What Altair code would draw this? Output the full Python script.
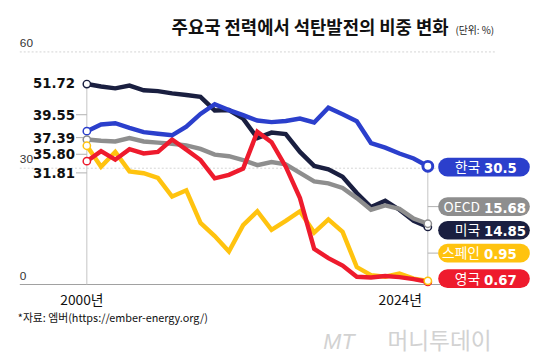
import altair as alt
import pandas as pd

years = list(range(2000, 2025))
names = ['한국', 'OECD', '미국', '스페인', '영국']
colors = ['#2B3FCC', '#8E8E8E', '#1A1F40', '#FFC30F', '#EE1B2D']

korea = [39.55, 41.3, 41.6, 40.4, 39.3, 38.9, 38.5, 40.7, 44.0, 46.5, 45.0, 43.7, 42.3,
         41.9, 42.2, 42.8, 41.8, 45.6, 43.9, 42.1, 36.5, 35.3, 33.8, 32.5, 30.5]
oecd = [37.39, 37.1, 36.9, 37.8, 36.9, 36.6, 36.3, 35.9, 35.0, 33.5, 33.1, 32.1, 30.8,
        31.6, 31.0, 28.8, 26.6, 26.1, 24.9, 22.3, 19.3, 20.4, 19.5, 17.0, 15.68]
usa = [51.72, 51.1, 50.6, 51.3, 50.1, 49.9, 49.3, 48.9, 48.4, 44.9, 45.0, 42.8, 37.8,
       39.2, 38.8, 34.2, 30.6, 29.7, 27.8, 23.6, 20.0, 21.6, 19.3, 16.4, 14.85]
spain = [35.80, 30.4, 34.2, 29.2, 28.7, 27.5, 22.7, 24.3, 15.9, 12.5, 8.5, 15.3, 18.9,
         14.1, 16.4, 18.9, 13.4, 16.8, 13.6, 4.5, 2.4, 2.0, 2.8, 1.5, 0.95]
uk = [31.81, 34.4, 32.2, 34.9, 33.8, 34.2, 37.4, 34.8, 32.1, 27.4, 28.3, 29.9, 39.4,
      36.7, 30.4, 22.3, 9.2, 6.8, 4.9, 2.0, 1.8, 2.2, 1.9, 1.4, 0.67]
series = [korea, oecd, usa, spain, uk]

start_text = ['39.55', '37.39', '51.72', '35.80', '31.81']
end_text = ['30.5', '15.68', '14.85', '0.95', '0.67']
# label placement (in value units) after de-overlapping
start_pos = [43.8, 37.9, 51.9, 33.6, 28.8]
end_pos = [30.3, 20.1, 14.0, 8.1, 1.5]

y_ticks = [60, 30, 0]
x_labels = ['2000년', '2024년']

rows = []
for n, vals in zip(names, series):
    for yr, v in zip(years, vals):
        rows.append({'name': n, 'year': yr, 'v': v})
df = pd.DataFrame(rows)

lab = pd.DataFrame({'name': names, 'stxt': start_text, 'etxt': end_text,
                    'spos': start_pos, 'epos': end_pos,
                    'y0': [s[0] for s in series], 'y1': [s[-1] for s in series],
                    'x0': [years[0]] * 5, 'x1': [years[-1]] * 5})

xs = alt.Scale(domain=[2000, 2024], range=[80, 426])
ys = alt.Scale(domain=[0, 60], range=[278, 42])
cs = alt.Scale(domain=names, range=colors)
X = lambda f: alt.X(f, type='quantitative', scale=xs, axis=None)
Y = lambda f: alt.Y(f, type='quantitative', scale=ys, axis=None)
C = alt.Color('name:N', scale=cs, legend=None)

KR = 'Noto Sans CJK KR'
NUM = 'DejaVu Sans Condensed, Liberation Sans Narrow, Liberation Sans, sans-serif'

layers = []
grid = pd.DataFrame({'v': y_ticks})
layers.append(alt.Chart(grid).transform_filter('datum.v > 0').mark_rule(
    color='#d4d4d4', strokeDash=[2, 2], strokeWidth=1).encode(
    x=alt.value(12), x2=alt.value(495), y=Y('v')))
layers.append(alt.Chart(grid).transform_filter('datum.v == 0').mark_rule(
    color='#a0a0a0', strokeWidth=1).encode(x=alt.value(12), x2=alt.value(495), y=Y('v')))
layers.append(alt.Chart(grid).mark_text(
    align='left', baseline='alphabetic', dy=-5, fontSize=12, font='Liberation Sans', color='#333').encode(
    x=alt.value(12), y=Y('v'), text=alt.Text('v:Q')))

# guide lines
guide = pd.DataFrame({'year': [2000, 2024], 'top': [51.72, 30.5], 'bot': [0, 0]})
layers.append(alt.Chart(guide).mark_rule(color='#c4c4c4', strokeWidth=1).encode(
    x=X('year'), y=Y('top'), y2='bot'))
layers.append(alt.Chart(lab).transform_filter("datum.name != '미국'").mark_rule(
    color='#b0b0b0', strokeWidth=1).encode(x=alt.value(69), x2=alt.value(80), y=Y('spos')))
layers.append(alt.Chart(lab).transform_filter("datum.name == 'OECD' || datum.name == '스페인'").mark_rule(
    color='#b0b0b0', strokeWidth=1).encode(x=alt.value(426), x2=alt.value(437), y=Y('epos')))

# lines
for n in ['미국', 'OECD', '스페인', '영국', '한국']:
    layers.append(alt.Chart(df).transform_filter(alt.datum.name == n).mark_line(
        strokeWidth=4.5, strokeJoin='miter').encode(x=X('year'), y=Y('v'), color=C))

# start / end circles
layers.append(alt.Chart(lab).mark_point(filled=True, fill='white', size=55, strokeWidth=1.5, opacity=1).encode(
    x=X('x0'), y=Y('y0'), stroke=alt.Stroke('name:N', scale=cs, legend=None)))
for n in ['미국', 'OECD', '영국', '스페인']:
    layers.append(alt.Chart(lab).transform_filter(alt.datum.name == n).mark_point(
        filled=True, fill='white', size=55, strokeWidth=1.5, opacity=1).encode(
        x=X('x1'), y=Y('y1'), stroke=alt.Stroke('name:N', scale=cs, legend=None)))
layers.append(alt.Chart(lab).transform_filter("datum.name == '한국'").mark_point(
    filled=True, fill='white', size=100, strokeWidth=3, opacity=1).encode(
    x=X('x1'), y=Y('y1'), stroke=alt.Stroke('name:N', scale=cs, legend=None)))

# start labels
layers.append(alt.Chart(lab).mark_text(align='right', baseline='middle', dx=-12, fontSize=15,
                                       fontWeight='bold', font=NUM, color='#111').encode(
    x=X('x0'), y=Y('spos'), text='stxt:N'))

# end pills
layers.append(alt.Chart(lab).mark_rule(strokeWidth=19, strokeCap='round', opacity=1).encode(
    x=alt.value(446), x2=alt.value(520), y=Y('epos'), color=C))
layers.append(alt.Chart(lab).mark_text(align='right', baseline='middle', dy=1, fontSize=14,
                                       font=KR, color='white').encode(
    x=alt.value(479), y=Y('epos'), text='name:N'))
layers.append(alt.Chart(lab).mark_text(align='left', baseline='middle', dy=1, fontSize=15,
                                       fontWeight='bold', font=NUM, color='white').encode(
    x=alt.value(483), y=Y('epos'), text='etxt:N'))

# x labels
xl = pd.DataFrame({'year': [2000, 2024], 't': x_labels, 'v': [0, 0]})
layers.append(alt.Chart(xl).transform_filter('datum.year == 2000').mark_text(
    fontSize=14, font=KR, color='#111', baseline='alphabetic', dx=-5).encode(
    x=X('year'), y=alt.value(299), text='t:N'))
layers.append(alt.Chart(xl).transform_filter('datum.year == 2024').mark_text(
    fontSize=14, font=KR, color='#111', baseline='alphabetic', dx=-28).encode(
    x=X('year'), y=alt.value(299), text='t:N'))

# titles and notes
notes = pd.DataFrame({'t': ['주요국 전력에서 석탄발전의 비중 변화']})
layers.append(alt.Chart(notes).mark_text(align='right', baseline='alphabetic', fontSize=18,
                                         fontWeight='bold', font=KR, color='#111').encode(
    x=alt.value(447), y=alt.value(24), text='t:N'))
layers.append(alt.Chart(pd.DataFrame({'t': ['(단위: %)']})).mark_text(
    align='left', baseline='alphabetic', fontSize=10, font=KR, color='#222').encode(
    x=alt.value(454), y=alt.value(24), text='t:N'))
layers.append(alt.Chart(pd.DataFrame({'t': ['*자료: 엠버(https://ember-energy.org/)']})).mark_text(
    align='left', baseline='alphabetic', fontSize=11, font=KR, color='#111').encode(
    x=alt.value(10), y=alt.value(316), text='t:N'))
layers.append(alt.Chart(pd.DataFrame({'t': ['MT']})).mark_text(
    align='left', baseline='alphabetic', fontSize=22, fontStyle='italic', font='Liberation Sans',
    color='#d2d2d2').encode(x=alt.value(320), y=alt.value(343), text='t:N'))
layers.append(alt.Chart(pd.DataFrame({'t': ['머니투데이']})).mark_text(
    align='left', baseline='alphabetic', fontSize=23, font=KR, color='#d2d2d2').encode(
    x=alt.value(385), y=alt.value(343), text='t:N'))

chart = alt.layer(*layers).properties(
    width=552, height=351, autosize='none', padding=0
).configure_view(stroke=None)

chart.save('out.html', embed_options={'renderer': 'svg', 'actions': False})
